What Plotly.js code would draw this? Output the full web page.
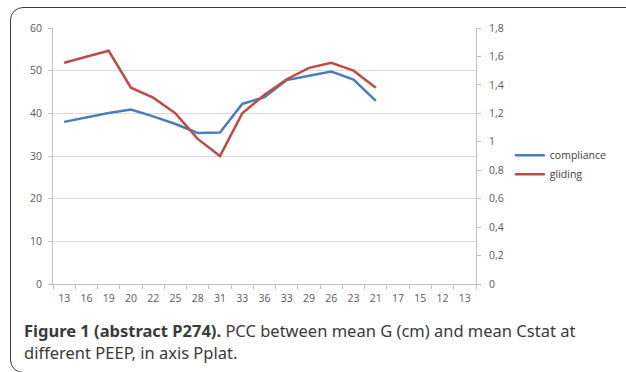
<!DOCTYPE html>
<html><head><meta charset="utf-8">
<script src="https://cdn.plot.ly/plotly-3.0.1.min.js"></script>
<style>
html,body{margin:0;padding:0;background:#fff;overflow:hidden;}
#wrap{position:relative;width:626px;height:372px;}
#frame{position:absolute;left:10px;top:7px;width:640px;height:366px;border:1.5px solid #3a3a3a;border-radius:13px;box-sizing:border-box;}
#chart{position:absolute;left:0;top:0;width:626px;height:372px;}
#cap{position:absolute;left:24px;top:320px;font-family:"Noto Sans",sans-serif;font-size:16.5px;line-height:22px;color:#3a3a3a;white-space:nowrap;}
#cap b{color:#3a3a3a;}
</style></head>
<body><div id="wrap"><div id="frame"></div><div id="chart"></div>
<div id="cap"><b>Figure 1 (abstract P274).</b> PCC between mean G (cm) and mean Cstat at<br>different PEEP, in axis Pplat.</div></div>
<script>
const categories = ["13","16","19","20","22","25","28","31","33","36","33","29","26","23","21","17","15","12","13"];
const compliance = [38.0,39.0,40.1,40.9,39.3,37.5,35.4,35.5,42.2,43.8,47.8,48.8,49.8,47.9,42.9];
const gliding = [1.556,1.60,1.64,1.38,1.31,1.20,1.02,0.90,1.20,1.33,1.44,1.52,1.555,1.50,1.38];
const leftTicks = [0,10,20,30,40,50,60];
const rightTicks = [0,0.2,0.4,0.6,0.8,1,1.2,1.4,1.6,1.8];
const rightTickText = ["0","0,2","0,4","0,6","0,8","1","1,2","1,4","1,6","1,8"];

const idx = categories.map((c,i)=>i);
const tickFont = {family:"Open Sans, sans-serif", size:10.5, color:"#595959"};
const data = [
 {x: idx.slice(0,compliance.length), y: compliance, name:"compliance", type:"scatter", mode:"lines",
  line:{color:"#4a7ebb", width:2.5}, yaxis:"y"},
 {x: idx.slice(0,gliding.length), y: gliding, name:"gliding", type:"scatter", mode:"lines",
  line:{color:"#be4b48", width:2.5}, yaxis:"y2"}
];
const layout = {
 width:626, height:372, margin:{l:53, r:150, t:28, b:88},
 paper_bgcolor:"rgba(0,0,0,0)", plot_bgcolor:"rgba(0,0,0,0)",
 showlegend:true,
 legend:{x:1.08, y:0.466, xanchor:"left", yanchor:"middle", font:{family:"Open Sans, sans-serif", size:10.5, color:"#404040"},
   itemwidth:30, bgcolor:"rgba(0,0,0,0)"},
 xaxis:{range:[-0.5, categories.length-0.5], tickmode:"array", tickvals:idx, ticktext:categories,
   ticks:"", showgrid:false, zeroline:false, showline:true, linecolor:"#bfbfbf", linewidth:1,
   tickfont:tickFont, ticklabelstandoff:4,
   minor:{tick0:0.5, dtick:1, ticks:"outside", ticklen:4, tickcolor:"#bfbfbf", showgrid:false}},
 yaxis:{range:[0,60], tickmode:"array", tickvals:leftTicks, ticks:"outside", ticklen:4, tickcolor:"#bfbfbf",
   showgrid:true, gridcolor:"#d9d9d9", gridwidth:1, zeroline:false, showline:true, linecolor:"#bfbfbf",
   tickfont:tickFont, ticklabelstandoff:4},
 yaxis2:{range:[0,1.8], overlaying:"y", side:"right", tickmode:"array", tickvals:rightTicks, ticktext:rightTickText,
   ticks:"outside", ticklen:4, tickcolor:"#bfbfbf", showgrid:false, zeroline:false, showline:true, linecolor:"#bfbfbf",
   tickfont:tickFont, ticklabelstandoff:6}
};
Plotly.newPlot("chart", data, layout, {displayModeBar:false, staticPlot:true});
</script></body></html>
